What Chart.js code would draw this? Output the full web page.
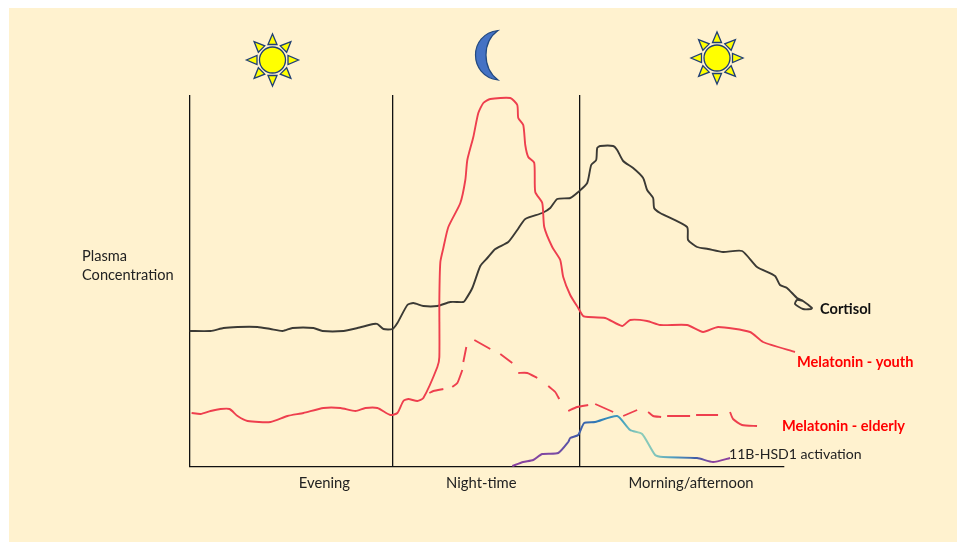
<!DOCTYPE html>
<html>
<head>
<meta charset="utf-8">
<title>Plasma concentration</title>
<script src="https://cdn.jsdelivr.net/npm/chart.js@4"></script>
<style>
  html, body { margin: 0; padding: 0; background: #fff; overflow: hidden; }
  #panel { position: absolute; left: 9px; top: 8px; width: 948px; height: 534px; background: #fff2cf; }
  #c { position: absolute; left: 0; top: 0; }
</style>
</head>
<body>
<div id="panel"></div>
<canvas id="c" width="957" height="542"></canvas>
<script>
// time runs 0..595 along the axis, concentration 0..372 (arbitrary units)
const dividers = [0, 203, 390];
const periodTicks = [135, 292, 502];
const periodLabels = ["Evening", "Night-time", "Morning/afternoon"];

const cortisolX = [0,21,34,48,68,81,93,103,124,133,154,168,184,188,194,203,208,218,224,234,248,261,274,276,283,291,298,306,319,328,336,353,361,368,381,389,398,402,407,408,411,424,428,434,444,454,458,464,465,471,498,499,508,519,534,553,568,586,591,598,608,614,623,622,614,606,608,614];
const cortisolY = [136,136,139,140,140,138,136,139,139,136,136,139,143,143,138,138,144,162,164,161,161,165,165,167,179,201,209,218,225,237,248,254,259,268,269,275,284,302,307,319,321,321,317,306,299,289,277,269,259,254,240,227,220,218,215,216,200,191,182,179,169,166,159,158,158,163,167,166];

const youthX = [2,11,21,31,40,48,58,81,98,114,134,151,166,176,188,201,208,214,219,228,234,248,250,250,251,254,259,271,276,278,284,289,294,301,321,328,329,334,336,339,345,346,353,355,363,371,374,381,389,394,399,416,433,441,458,471,498,514,529,561,574,606];
const youthY = [54,53,56,58,58,51,46,45,51,54,59,59,56,59,59,52,54,66,68,66,69,100,110,167,205,219,240,264,287,307,330,354,364,368,369,362,349,342,322,310,304,275,264,240,220,207,190,172,159,151,150,149,141,147,146,142,142,135,140,135,125,115];

// null in elderlyY leaves the gap between two dashes
const elderlyX = [240,244,254,254,263,268,273,273,274,277,277,285,301,301,311,323,323,329,338,348,348,359,366,370,370,379,388,399,399,406,424,424,434,448,448,459,464,472,472,478,501,501,507,529,529,541,544,553,568];
const elderlyY = [74,76,78,null,80,84,97,null,105,120,null,127,118,null,113,104,null,94,94,89,null,81,75,68,null,56,60,62,null,63,55,null,51,57,null,55,51,50,null,51,51,null,52,52,null,55,48,42,41];

const hsdX = [323,334,344,353,369,379,381,389,395,406,428,441,453,466,474,508,524,541];
const hsdY = [1,5,7,13,14,25,29,32,44,45,51,37,33,12,10,9,5,9];

const pairs = (xs, ys) => xs.map((x, i) => ({ x: x, y: ys[i] }));

const RED = "#ee3f4e";
const DARK = "#3b3a35";

function hsdGradient(ctx) {
  const { chart } = ctx;
  if (!chart.chartArea) return "#7a4aa0";
  const sx = chart.scales.x;
  const g = chart.ctx.createLinearGradient(sx.getPixelForValue(323), 0, sx.getPixelForValue(541), 0);
  g.addColorStop(0, "#8a409e");
  g.addColorStop(0.2, "#7a4aa4");
  g.addColorStop(0.3, "#3f5aa8");
  g.addColorStop(0.4, "#2f7fb8");
  g.addColorStop(0.5, "#3f9fc0");
  g.addColorStop(0.58, "#8fcdb8");
  g.addColorStop(0.66, "#7fc4bc");
  g.addColorStop(0.74, "#4f9cc0");
  g.addColorStop(0.84, "#3f5fa8");
  g.addColorStop(0.92, "#8a409e");
  g.addColorStop(1, "#8a409e");
  return g;
}

function sun(ctx, cx, cy) {
  ctx.save();
  ctx.translate(cx, cy);
  ctx.strokeStyle = "#1f3f75";
  ctx.fillStyle = "#ffff00";
  ctx.lineWidth = 1.3;
  for (let i = 0; i < 8; i++) {
    ctx.save();
    ctx.rotate(i * Math.PI / 4);
    ctx.beginPath();
    ctx.moveTo(-4.5, -15.5);
    ctx.lineTo(4.5, -15.5);
    ctx.lineTo(0, -26);
    ctx.closePath();
    ctx.fill();
    ctx.stroke();
    ctx.restore();
  }
  ctx.beginPath();
  ctx.arc(0, 0, 13, 0, Math.PI * 2);
  ctx.fill();
  ctx.stroke();
  ctx.restore();
}

function moon(ctx) {
  ctx.save();
  ctx.fillStyle = "#4472c4";
  ctx.strokeStyle = "#234a80";
  ctx.lineWidth = 1.2;
  ctx.beginPath();
  ctx.moveTo(498, 30.5);
  ctx.bezierCurveTo(468, 34, 468, 76, 498, 80);
  ctx.bezierCurveTo(482, 68, 482, 42, 498, 30.5);
  ctx.closePath();
  ctx.fill();
  ctx.stroke();
  ctx.restore();
}

const decorations = {
  id: "decorations",
  afterDraw(chart) {
    const ctx = chart.ctx;
    sun(ctx, 272.5, 60);
    sun(ctx, 717, 58);
    moon(ctx);
    ctx.textBaseline = "middle";
    ctx.textAlign = "left";
    ctx.font = "14.6px Lato";
    ctx.fillStyle = "#222";
    ctx.fillText("Plasma", 82, 256);
    ctx.fillText("Concentration", 82, 275.5);
    ctx.font = "14.1px Lato";
    ctx.fillText("11B-HSD1 activation", 729, 454);
    ctx.font = "bold 14.6px Lato";
    ctx.fillStyle = "#111";
    ctx.fillText("Cortisol", 820, 309);
    ctx.fillStyle = "#ff0000";
    ctx.fillText("Melatonin - youth", 797, 362);
    ctx.fillText("Melatonin - elderly", 782, 426);
  }
};

new Chart(document.getElementById("c"), {
  type: "line",
  data: {
    datasets: [
      { label: "Melatonin - youth", data: pairs(youthX, youthY), borderColor: RED, borderWidth: 1.9, tension: 0.2, clip: false },
      { label: "Melatonin - elderly", data: pairs(elderlyX, elderlyY), borderColor: RED, borderWidth: 1.9, tension: 0.2, clip: false, spanGaps: false },
      { label: "11B-HSD1 activation", data: pairs(hsdX, hsdY), borderColor: hsdGradient, borderWidth: 2, tension: 0.2, clip: false },
      { label: "Cortisol", data: pairs(cortisolX, cortisolY), borderColor: DARK, borderWidth: 1.9, tension: 0.2, clip: false }
    ]
  },
  options: {
    responsive: false,
    animation: false,
    devicePixelRatio: 1,
    elements: { point: { radius: 0 } },
    layout: { padding: { left: 189.6, right: 173, top: 95, bottom: 0 } },
    plugins: { legend: { display: false }, tooltip: { enabled: false } },
    scales: {
      x: {
        type: "linear",
        min: 0,
        max: 595,
        afterBuildTicks(axis) {
          axis.ticks = dividers.concat(periodTicks).map(v => ({ value: v }));
        },
        afterFit(axis) {
          axis.height = 75;
          axis.paddingLeft = 0;
          axis.paddingRight = 0;
        },
        grid: {
          drawTicks: false,
          lineWidth: 1.3,
          color: ctx => (dividers.includes(ctx.tick && ctx.tick.value) ? "#111" : "transparent")
        },
        border: { display: true, color: "#111", width: 1.3 },
        ticks: {
          autoSkip: false,
          maxRotation: 0,
          padding: 7,
          color: "#222",
          font: { family: "Lato", size: 14.8 },
          callback: v => (periodTicks.includes(v) ? periodLabels[periodTicks.indexOf(v)] : "")
        }
      },
      y: {
        type: "linear",
        min: 0,
        max: 372,
        afterFit(axis) {
          axis.width = 0;
        },
        grid: { display: false },
        border: { display: false },
        ticks: { display: false }
      }
    }
  },
  plugins: [decorations]
});
</script>
</body>
</html>
